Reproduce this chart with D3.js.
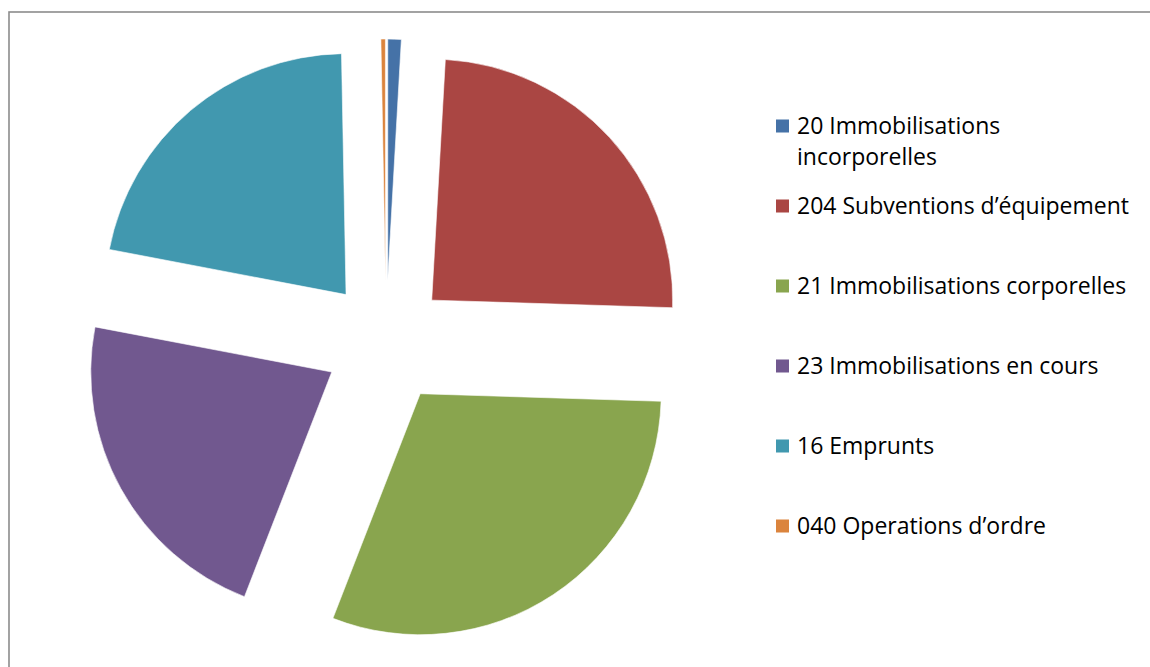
<!DOCTYPE html>
<html>
<head>
<meta charset="utf-8">
<script src="https://cdn.jsdelivr.net/npm/d3@7"></script>
<style>
  body { margin: 0; background: #fff; }
  text { font-family: "Open Sans", Lato, sans-serif; }
</style>
</head>
<body>
<div id="chart"></div>
<script>
// data (percent shares)
var labels = [
  ["20 Immobilisations", "incorporelles"],
  ["204 Subventions d\u2019\u00e9quipement"],
  ["21 Immobilisations corporelles"],
  ["23 Immobilisations en cours"],
  ["16 Emprunts"],
  ["040 Operations d\u2019ordre"]
];
var values = [0.9, 24.6, 30.4, 22.1, 21.7, 0.3];
var colors = ["#4572A7", "#AA4643", "#89A54E", "#71588F", "#4198AF", "#DB843D"];

var width = 1150, height = 667,
  cx = 386, cy = 342,
  radius = 241,
  explode = 62;

var svg = d3.select("#chart")
  .append("svg")
  .attr("width", width)
  .attr("height", height);

// chart area border (runs off the right and bottom)
svg.append("rect")
  .attr("x", 9)
  .attr("y", 12)
  .attr("width", width + 20)
  .attr("height", height + 20)
  .attr("fill", "none")
  .attr("stroke", "#8c8c8c")
  .attr("stroke-width", 1.6);

var pie = d3.pie().sort(null).value(d => d);
var arcs = pie(values);

var arc = d3.arc().innerRadius(0).outerRadius(radius);

var g = svg.append("g")
  .attr("transform", "translate(" + cx + "," + cy + ")");

g.selectAll("path")
  .data(arcs)
  .enter()
  .append("path")
    .attr("d", arc)
    .attr("fill", (d, i) => colors[i])
    .attr("stroke", "#fff")
    .attr("stroke-width", 0.6)
    .attr("transform", function(d) {
      var a = (d.startAngle + d.endAngle) / 2;
      return "translate(" + (Math.sin(a) * explode) + "," + (-Math.cos(a) * explode) + ")";
    });

// legend
var legend = svg.append("g");
var rowY = d3.scaleLinear().domain([0, 1]).range([126, 206]);

var items = legend.selectAll("g")
  .data(labels)
  .enter()
  .append("g")
  .attr("transform", (d, i) => "translate(776," + rowY(i) + ")");

items.append("rect")
  .attr("x", 0)
  .attr("y", -6.5)
  .attr("width", 13)
  .attr("height", 13)
  .attr("fill", (d, i) => colors[i]);

items.each(function(d) {
  var t = d3.select(this).append("text")
    .attr("x", 21)
    .attr("y", 8)
    .attr("font-size", "23px")
    .attr("fill", "#000");
  d.forEach(function(line, j) {
    t.append("tspan")
      .attr("x", 21)
      .attr("dy", j === 0 ? 0 : 31)
      .text(line);
  });
});
</script>
</body>
</html>
